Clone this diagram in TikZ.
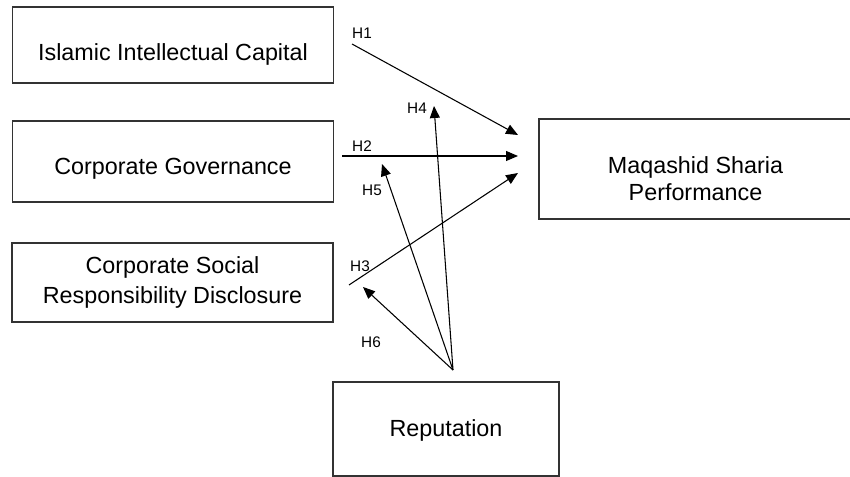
\documentclass[tikz,border=0pt]{standalone}
\usepackage{fontspec}
\setmainfont{Liberation Sans}
\usetikzlibrary{arrows.meta,positioning}

\begin{document}
\begin{tikzpicture}[x=0.75pt,y=-0.75pt,-,
                    var node/.style={rectangle,draw=black!80,line width=0.9pt,align=center,
                                     font=\fontsize{17.5}{22}\selectfont,minimum width=240.75pt},
                    hyp arrow/.style={-{Triangle[length=9pt,width=7.5pt]},line width=0.8pt},
                    hyp label/.style={font=\fontsize{11.5}{13}\selectfont,inner sep=0pt}]

  \useasboundingbox (0,0) rectangle (850,477);

  \node[var node,minimum height=57pt,text height=23.25pt,text depth=0pt] (iic) at (173,45) {Islamic Intellectual Capital};
  \node[var node,minimum height=60.75pt,text height=20.25pt,text depth=0pt] (cg) at (173,161.5) {Corporate Governance};
  \node[var node,minimum height=59.25pt] (csr) at (172.5,282.5) {Corporate Social\\Responsibility Disclosure};
  \node[var node,font=\fontsize{17.5}{20}\selectfont,minimum width=234.75pt,minimum height=75pt] (msp) at (695.5,169)
       {\rule{0pt}{27pt}Maqashid Sharia\\Performance};
  \node[var node,line width=1.6pt,minimum width=169.5pt,minimum height=70.5pt,text height=11.5pt,text depth=0pt] (rep) at (446,429) {Reputation};

  % free ends of the arrows
  \coordinate (h1s) at (352,44);
  \coordinate (h2s) at (342,156);
  \coordinate (h3s) at (349,285);
  \coordinate (h1e) at (518,135);
  \coordinate (h2e) at (518,156);
  \coordinate (h3e) at (518,173);
  \coordinate (repc) at (453,370);
  \coordinate (h4e) at (434,106);
  \coordinate (h5e) at (382,164);
  \coordinate (h6e) at (363,287);

  \path[hyp arrow]
    (h1s) edge (h1e)
    (h2s) edge (h2e)
    (h3s) edge (h3e)
    (repc) edge (h4e)
           edge (h5e)
           edge (h6e);

  \node[hyp label] (l1) at (362,33) {H1};
  \node[hyp label] (l2) at (362,146) {H2};
  \node[hyp label] (l3) at (360,266) {H3};
  \node[hyp label] (l4) at (417,108) {H4};
  \node[hyp label] (l5) at (372,190) {H5};
  \node[hyp label] (l6) at (371,342) {H6};

\end{tikzpicture}
\end{document}
